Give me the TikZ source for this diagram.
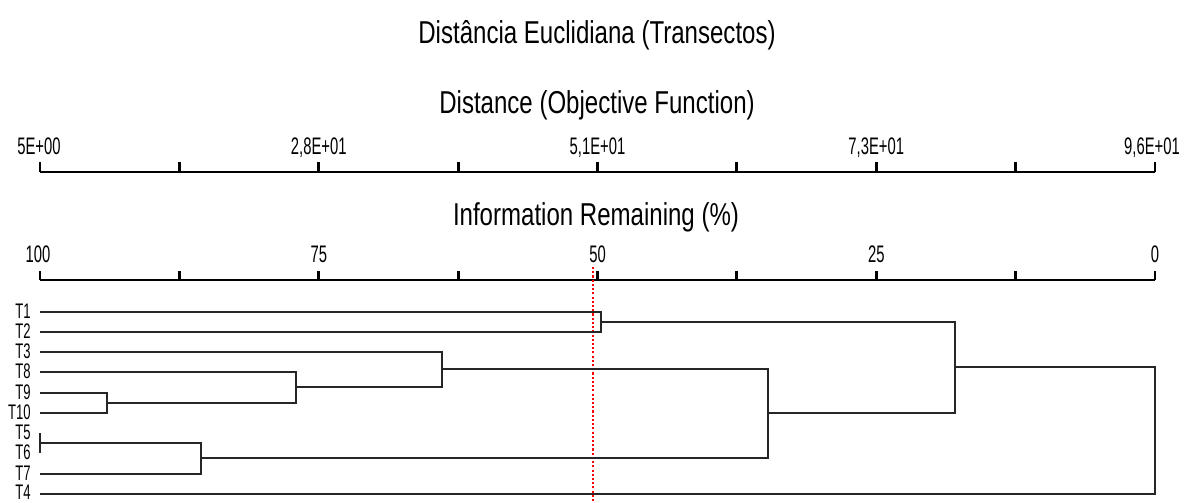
\documentclass[tikz,border=0pt]{standalone}
\usepackage{fontspec}
\setmainfont{Liberation Sans}
\newfontfamily\titlefont[FakeStretch=0.76]{Liberation Sans}
\newfontfamily\narrowfont[FakeStretch=0.62]{Liberation Sans}
\usetikzlibrary{positioning}

\tikzset{
  branch/.style={line width=1.3pt, black!85},
  axisline/.style={line width=2pt, black},
  heading/.style={font=\titlefont\fontsize{22.5}{24}\selectfont, anchor=base},
  ticklabel/.style={font=\narrowfont\fontsize{17}{18}\selectfont, anchor=base},
  leaflabel/.style={font=\narrowfont\fontsize{15}{16}\selectfont, anchor=base east, inner sep=0pt},
  cutline/.style={red, line width=2pt, dash pattern=on 1.5pt off 1.5pt}
}

\begin{document}
\begin{tikzpicture}[x=0.025cm, y=-0.025cm]
    \useasboundingbox (0,0) rectangle (1189,502);

    % Headings
    \node[heading] (title) at (597,43) {Distância Euclidiana (Transectos)};
    \node[heading] (distlabel) at (597,113) {Distance (Objective Function)};
    \node[heading] (infolabel) at (596,225) {Information Remaining (\%)};

    % Distance axis
    \draw[axisline] (40,172) -- (1155,172);
    \foreach \i in {0,...,8}
        \draw[axisline] ({40+\i*139.375},162) -- ({40+\i*139.375},172);
    \node[ticklabel] (d0) at (39,154) {5E+00};
    \node[ticklabel] (d1) at (318.75,154) {2,8E+01};
    \node[ticklabel] (d2) at (597.5,154) {5,1E+01};
    \node[ticklabel] (d3) at (876.25,154) {7,3E+01};
    \node[ticklabel] (d4) at (1152,154) {9,6E+01};

    % Information remaining axis
    \draw[axisline] (40,280) -- (1155,280);
    \foreach \i in {0,...,8}
        \draw[axisline] ({40+\i*139.375},271) -- ({40+\i*139.375},280);
    \node[ticklabel] (r0) at (38,262) {100};
    \node[ticklabel] (r1) at (318.75,262) {75};
    \node[ticklabel] (r2) at (597.5,262) {50};
    \node[ticklabel] (r3) at (876.25,262) {25};
    \node[ticklabel] (r4) at (1155,262) {0};

    % Leaf labels
    \node[leaflabel] (T1) at (31,318) {T1};
    \node[leaflabel] (T2) at (31,338) {T2};
    \node[leaflabel] (T3) at (31,358) {T3};
    \node[leaflabel] (T8) at (31,378) {T8};
    \node[leaflabel] (T9) at (31,399) {T9};
    \node[leaflabel] (T10) at (31,419) {T10};
    \node[leaflabel] (T5) at (31,439) {T5};
    \node[leaflabel] (T6) at (31,459) {T6};
    \node[leaflabel] (T7) at (31,480) {T7};
    \node[leaflabel] (T4) at (31,499) {T4};

    % Leaf ends
    \coordinate (t1) at (40,312);
    \coordinate (t2) at (40,332);
    \coordinate (t3) at (40,352);
    \coordinate (t8) at (40,372);
    \coordinate (t9) at (40,393);
    \coordinate (t10) at (40,413);
    \coordinate (t5) at (40,433);
    \coordinate (t6) at (40,453);
    \coordinate (t7) at (40,474);
    \coordinate (t4) at (40,494);

    % Merge points
    \coordinate (m910) at (107,403);
    \coordinate (m8) at (296,387);
    \coordinate (m3) at (442,369);
    \coordinate (m56) at (40,443);
    \coordinate (m567) at (201,458);
    \coordinate (mA) at (768,413);
    \coordinate (m12) at (601,322);
    \coordinate (mB) at (955,367);
    \coordinate (root) at (1155,431);

    % Cut level
    \draw[cutline] (593,267) -- (593,502);

    % Branches
    \draw[branch] (t1) -| (m12);
    \draw[branch] (t2) -| (m12);
    \draw[branch] (t9) -| (m910);
    \draw[branch] (t10) -| (m910);
    \draw[branch] (t8) -| (m8);
    \draw[branch] (m910) -| (m8);
    \draw[branch] (t3) -| (m3);
    \draw[branch] (m8) -| (m3);
    \draw[branch] (t5) -- (t6);
    \draw[branch] (m56) -| (m567);
    \draw[branch] (t7) -| (m567);
    \draw[branch] (m3) -| (mA);
    \draw[branch] (m567) -| (mA);
    \draw[branch] (m12) -| (mB);
    \draw[branch] (mA) -| (mB);
    \draw[branch] (mB) -| (root);
    \draw[branch] (t4) -| (root);
\end{tikzpicture}
\end{document}
